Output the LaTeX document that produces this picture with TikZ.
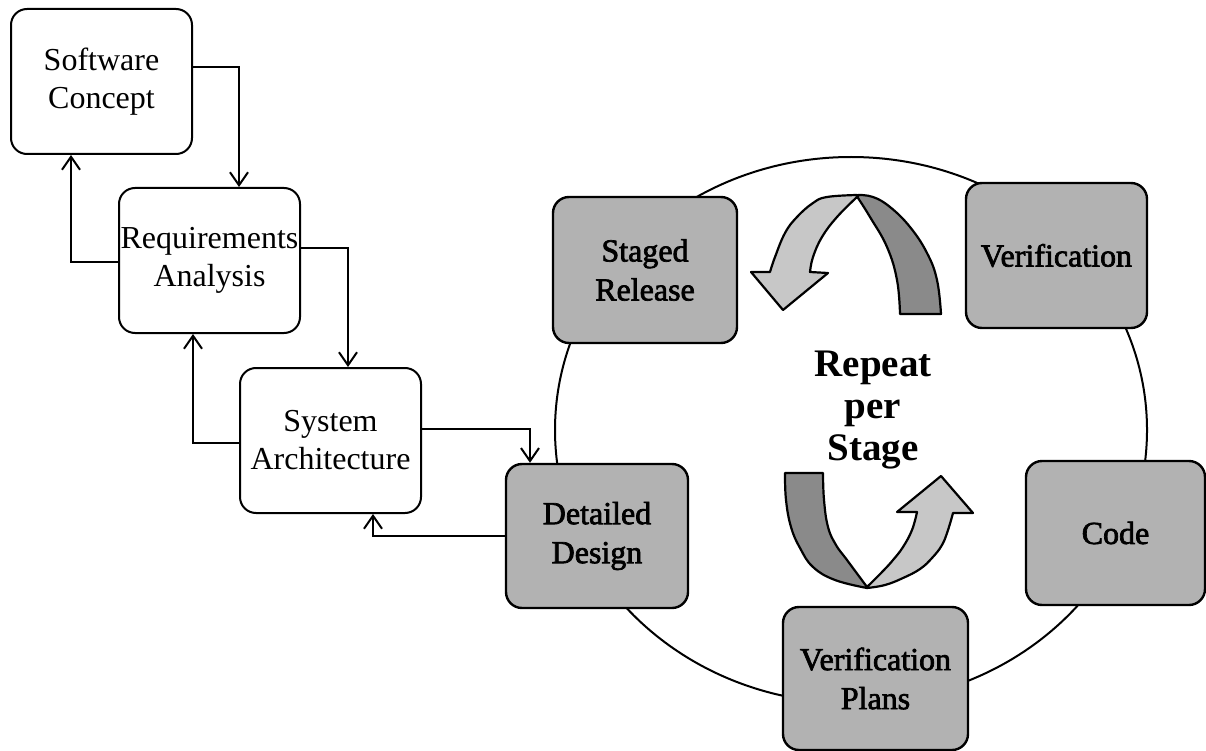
\documentclass[tikz,border=0pt]{standalone}
\usepackage{fontspec}
\setmainfont{Liberation Serif}
\newfontfamily\heavyserif[FakeBold=2.2]{Liberation Serif}
\usetikzlibrary{arrows.meta}

\begin{document}
\begin{tikzpicture}[x=1pt,y=-1pt,
  plain/.style={draw, line width=2pt, rounded corners=16pt, fill=white,
    minimum width=181pt, minimum height=145pt, inner sep=0pt, align=center,
    font=\fontsize{32}{38}\selectfont},
  stagebox/.style={plain, line width=2.4pt, fill=black!30, font=\fontsize{32}{39}\selectfont\heavyserif},
  flow/.style={line width=2pt, -{Straight Barb[length=13pt,width=18pt]}},
  ribbonlight/.style={draw, line width=2.2pt, fill=black!22, line join=round},
  ribbondark/.style={draw, line width=2.2pt, fill=black!46, line join=round},
]
\useasboundingbox[fill=white] (0,0) rectangle (1206,751);

% stage cycle
\draw[line width=2pt] (851,430) ellipse [x radius=296pt, y radius=273pt];

% waterfall part
\node[plain] (sc) at (101.5,81.5) {Software\\Concept};
\node[plain] (ra) at (209.5,260.5) {Requirements\\Analysis};
\node[plain] (sa) at (330.5,440.5) {System\\Architecture};

% staged part
\node[stagebox, minimum width=182pt, minimum height=144pt] (dd) at (597,536) {Detailed\\Design};
\node[stagebox, minimum width=184pt, minimum height=146pt] (sr) at (645,270) {Staged\\Release};
\node[stagebox] (ver) at (1056.5,255.5) {Verification};
\node[stagebox, minimum width=179pt, minimum height=144pt] (code) at (1115.5,533) {Code};
\node[stagebox, minimum width=185pt, minimum height=143pt] (vp) at (875.5,678.5) {Verification\\Plans};

% forward and feedback flows
\draw[flow] ([yshift=14.5pt]sc.east) -| ([xshift=29.5pt]ra.north);
\draw[flow] ([yshift=-1.5pt]ra.west) -| ([xshift=-30.5pt]sc.south);
\draw[flow] ([yshift=12.5pt]ra.east) -| ([xshift=17.5pt]sa.north);
\draw[flow] ([yshift=-2.5pt]sa.west) -| ([xshift=-16.5pt]ra.south);
\draw[flow] ([yshift=11.5pt]sa.east) -| ([xshift=-67pt]dd.north);
\draw[flow] (dd.west) -| ([xshift=42.5pt]sa.south);

% upper twisted arrow
\filldraw[ribbonlight]
  plot[smooth, tension=0.7] coordinates {(857,195) (827,197) (813,203) (797,217) (785,233) (775,257) (770,272)}
  -- (751,272) -- (783,310) -- (828,273) -- (810,272)
  -- plot[smooth, tension=0.7] coordinates {(810,272) (813,257) (822,237) (837,217) (857,197)}
  -- cycle;
\filldraw[ribbondark]
  plot[smooth, tension=0.7] coordinates {(858,195) (873,197) (890,207) (910,227) (927,253) (937,280) (941,314)}
  -- (900,314)
  -- plot[smooth, tension=0.7] coordinates {(900,314) (897,280) (887,247) (870,217) (858,198)}
  -- cycle;

% lower twisted arrow
\filldraw[ribbondark]
  plot[smooth, tension=0.7] coordinates {(785,473) (786,500) (791,527) (800,548) (813,567) (835,580) (867,588)}
  -- plot[smooth, tension=0.7] coordinates {(867,587) (847,560) (836,545) (828,527) (824,500) (823,473)}
  -- cycle;
\filldraw[ribbonlight]
  plot[smooth, tension=0.7] coordinates {(867,588) (885,585) (903,578) (920,569) (932,558) (942,545) (948,530) (953,513)}
  -- (973,513) -- (941,476) -- (897,512) -- (917,512)
  -- plot[smooth, tension=0.7] coordinates {(917,512) (912,530) (903,547) (893,560) (883,571) (867,587)}
  -- cycle;

% the base anchor of this three-line node sits on the last line
\node[font=\fontsize{39}{42}\selectfont\bfseries, align=center, anchor=base] (rep) at (873,460) {Repeat\\per\\Stage};
\end{tikzpicture}
\end{document}
